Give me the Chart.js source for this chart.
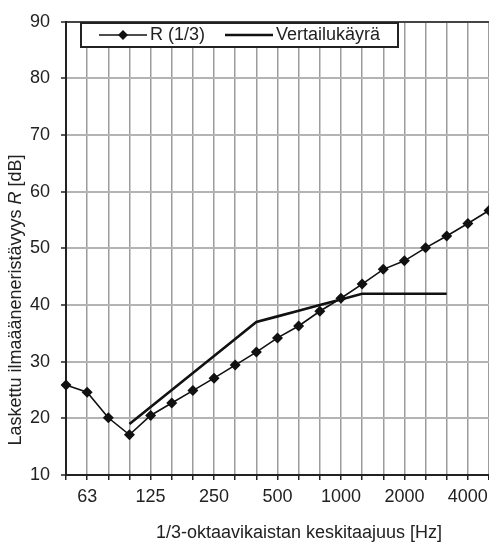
<!DOCTYPE html>
<html>
<head>
<meta charset="utf-8">
<script src="https://cdn.jsdelivr.net/npm/chart.js@4/dist/chart.umd.min.js"></script>
<style>
body{margin:0;background:#fff;}
#wrap{width:489px;height:547px;position:relative;}
</style>
</head>
<body>
<div id="wrap"><canvas id="graph"></canvas></div>
<script>
// 1/3-oktaavikaistojen keskitaajuudet
const bands      = ["50","63","80","100","125","160","200","250","315","400","500","630","800","1000","1250","1600","2000","2500","3150","4000","5000"];
const band_ticks = ["63","125","250","500","1000","2000","4000"];

// laskettu ilmaääneneristävyys R (1/3)
const r_values   = [25.9,24.6,20.1,17.1,20.5,22.7,24.9,27.1,29.4,31.7,34.2,36.3,38.9,41.2,43.7,46.3,47.8,50.1,52.2,54.4,56.7];
// vertailukäyrä (siirretty), 100 - 3150 Hz
const ref_values = [null,null,null,19,22,25,28,31,34,37,38,39,40,41,42,42,42,42,42,null,null];

const labels     = ["R (1/3)", "Vertailukäyrä"];
const y_min = 10, y_max = 90, y_step = 10;

const FONT = "18px 'Liberation Sans', Arial, sans-serif";
const TEXT = "#222";

// akselien otsikot ja selite piirretään itse
const extras = {
    id: "extras",
    afterDraw(chart){
        const ctx = chart.ctx;
        ctx.save();
        ctx.fillStyle = TEXT;
        ctx.font = FONT;
        ctx.textBaseline = "middle";

        // x-akselin otsikko
        ctx.textAlign = "center";
        ctx.fillText("1/3-oktaavikaistan keskitaajuus [Hz]", 299, 533);

        // y-akselin otsikko, R kursiivilla
        const parts = [
            ["Laskettu ilmaääneneristävyys ", FONT],
            ["R", "italic " + FONT],
            [" [dB]", FONT]
        ];
        let total = 0;
        for (let p of parts){ ctx.font = p[1]; total += ctx.measureText(p[0]).width; }
        ctx.translate(16, 300);
        ctx.rotate(-Math.PI/2);
        ctx.textAlign = "left";
        let pos = -total/2;
        for (let p of parts){
            ctx.font = p[1];
            ctx.fillText(p[0], pos, 0);
            pos += ctx.measureText(p[0]).width;
        }
        ctx.restore();

        // selite
        ctx.save();
        ctx.fillStyle = "#fff";
        ctx.fillRect(81, 23, 317, 24);
        ctx.strokeStyle = "#222";
        ctx.lineWidth = 2;
        ctx.strokeRect(81, 23, 317, 24);

        const ly = 35;
        const ds = chart.data.datasets;
        // R (1/3)
        ctx.strokeStyle = ds[0].borderColor;
        ctx.lineWidth = ds[0].borderWidth;
        ctx.beginPath(); ctx.moveTo(99, ly); ctx.lineTo(147, ly); ctx.stroke();
        ctx.fillStyle = ds[0].pointBackgroundColor;
        ctx.beginPath();
        ctx.moveTo(123, ly-5); ctx.lineTo(128, ly); ctx.lineTo(123, ly+5); ctx.lineTo(118, ly);
        ctx.closePath(); ctx.fill();
        // vertailukäyrä
        ctx.strokeStyle = ds[1].borderColor;
        ctx.lineWidth = ds[1].borderWidth;
        ctx.beginPath(); ctx.moveTo(225, ly); ctx.lineTo(273, ly); ctx.stroke();

        ctx.fillStyle = TEXT;
        ctx.font = FONT;
        ctx.textAlign = "left";
        ctx.textBaseline = "middle";
        ctx.fillText(ds[0].label, 150, ly);
        ctx.fillText(ds[1].label, 276, ly);
        ctx.restore();
    }
};

window.addEventListener("load", function(){
    const ctx = document.getElementById("graph").getContext("2d");
    const myChart = new Chart(ctx, {
        type: "line",
        data: {
            labels: bands,
            datasets: [{
                label: labels[0],
                data: r_values,
                borderColor: "#111",
                borderWidth: 1.6,
                pointStyle: "rectRot",
                pointRadius: 5.5,
                pointBackgroundColor: "#111",
                pointBorderColor: "#111",
                pointBorderWidth: 0,
                tension: 0
            },{
                label: labels[1],
                data: ref_values,
                borderColor: "#111",
                borderWidth: 2.6,
                pointRadius: 0,
                tension: 0
            }]
        },
        options: {
            responsive: true,
            maintainAspectRatio: false,
            animation: false,
            layout: { autoPadding: false, padding: { left: 0, top: 14, right: 0, bottom: 0 } },
            plugins: {
                legend: { display: false },
                tooltip: { enabled: false }
            },
            scales: {
                x: {
                    offset: false,
                    // akseli ulottuu kuvan oikeaan reunaan asti
                    afterFit: function(scale){
                        scale.height = 72;
                        scale.paddingLeft = 0;
                        scale.paddingRight = 0;
                    },
                    grid: { color: "#9c9c9c", lineWidth: 1.5, offset: false, tickLength: 5, tickColor: "#222", tickWidth: 1.5 },
                    border: { color: "#222", width: 2 },
                    ticks: {
                        autoSkip: false,
                        maxRotation: 0,
                        padding: 6,
                        color: TEXT,
                        font: { family: "'Liberation Sans', Arial, sans-serif", size: 18 },
                        callback: function(v, i){ return band_ticks.includes(bands[i]) ? bands[i] : ""; }
                    }
                },
                y: {
                    min: y_min,
                    max: y_max,
                    afterFit: function(scale){ scale.width = 66; },
                    grid: {
                        color: c => (c.tick && c.tick.value === y_max) ? "#444" : "#b4b4b4",
                        lineWidth: 2,
                        tickLength: 5,
                        tickColor: "#222",
                        tickWidth: 1.5
                    },
                    border: { color: "#222", width: 2 },
                    ticks: {
                        stepSize: y_step,
                        padding: 11,
                        color: TEXT,
                        font: { family: "'Liberation Sans', Arial, sans-serif", size: 18 }
                    }
                }
            }
        },
        plugins: [extras]
    });
});
</script>
</body>
</html>
